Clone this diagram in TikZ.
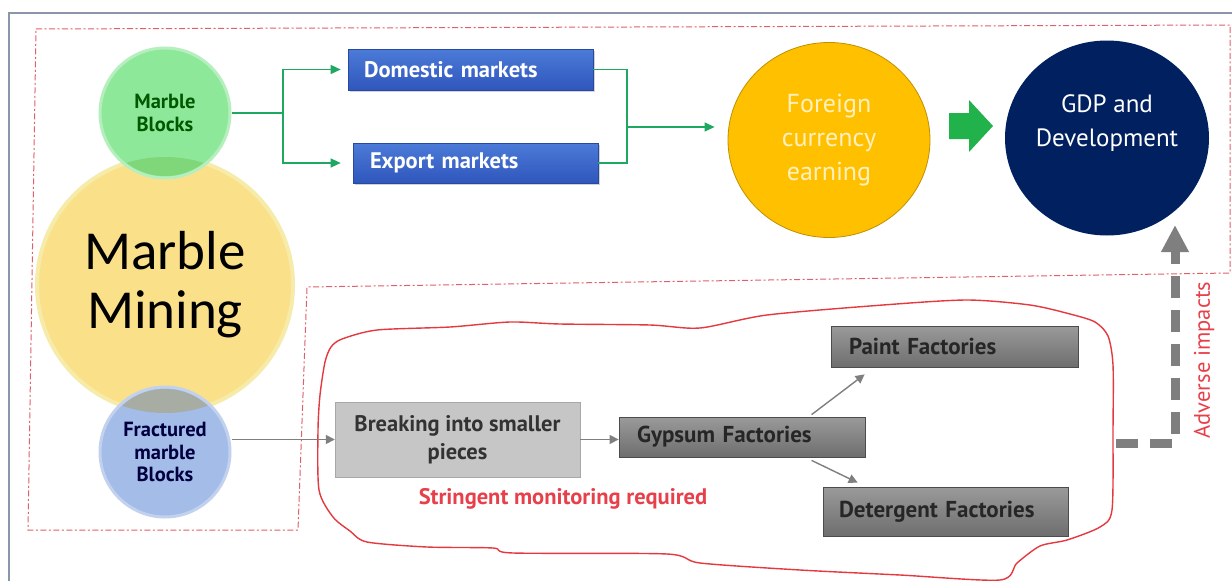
\documentclass[tikz,border=0pt]{standalone}
\usepackage{fontspec}
\setmainfont{PT Sans}
\newfontfamily\nf{PT Sans}
\newfontfamily\calib{Carlito}
\usetikzlibrary{arrows.meta,shapes.geometric,shadows,calc}
\definecolor{framec}{HTML}{8A96AA}
\definecolor{reddash}{HTML}{E0606A}
\definecolor{redline}{HTML}{E53940}
\definecolor{redtext}{HTML}{E8404A}
\definecolor{yellowc}{HTML}{FBE08A}
\definecolor{yellowrim}{HTML}{F6EBA8}
\definecolor{greenc}{HTML}{8DE89A}
\definecolor{greenrim}{HTML}{B6EFBE}
\definecolor{greenov}{HTML}{7FD77A}
\definecolor{bluec}{HTML}{A3BCE8}
\definecolor{bluerim}{HTML}{C2D2EE}
\definecolor{blueov}{HTML}{A8ADA4}
\definecolor{blueT}{HTML}{4C7BD8}
\definecolor{blueB}{HTML}{2F56BC}
\definecolor{gline}{HTML}{1FA862}
\definecolor{amber}{HTML}{FFC000}
\definecolor{navy}{HTML}{002060}
\definecolor{garr}{HTML}{22B24C}
\definecolor{dgT}{HTML}{9A9A9A}
\definecolor{dgB}{HTML}{6E6E6E}
\definecolor{lgc}{HTML}{C6C6C6}
\definecolor{grayarr}{HTML}{7F7F7F}
\definecolor{cream}{HTML}{FFF0C0}
\begin{document}
\begin{tikzpicture}[x=1pt,y=-1pt,
  circ/.style={circle,inner sep=0pt,align=center},
  bluebox/.style={rectangle,top color=blueT,bottom color=blueB,draw=blueB!85!black,line width=0.6pt,
    drop shadow={opacity=0.35,shadow xshift=2pt,shadow yshift=-2pt},text=white,
    font=\nf\bfseries\fontsize{22.5}{26}\selectfont,align=left,inner ysep=0pt},
  dgbox/.style={rectangle,top color=dgT,bottom color=dgB,draw=black!70,line width=0.8pt,
    text=black!85,font=\nf\bfseries\fontsize{23}{26}\selectfont,align=left,inner ysep=0pt},
  lgbox/.style={rectangle,fill=lgc,draw=lgc!85!black,line width=0.4pt,
    text=black!80,font=\nf\bfseries\fontsize{22.5}{28}\selectfont,align=center,inner sep=0pt},
  gconn/.style={draw=gline,line width=1.3pt},
  garrow/.style={gconn,-{Triangle[width=9pt,length=10pt]}},
  grayconn/.style={draw=grayarr,line width=1.4pt,-{Triangle[width=9pt,length=9pt]}},
  regionline/.style={draw=reddash,line width=1pt,dash pattern=on 6pt off 2.5pt on 2pt off 2.5pt},
  impact/.style={draw=grayarr,line width=9pt,dash pattern=on 22pt off 12pt,
    -{Triangle[width=26pt,length=27pt]}}
]
\useasboundingbox (0,0) rectangle (1232,581);
\clip (0,0) rectangle (1232,581);
\fill[white] (0,0) rectangle (1232,581);
% outer frame
\draw[draw=framec,line width=1.3pt] (9,600) -- (9,13) -- (1250,13);
% red dashed region
\draw[regionline] (36,29) -- (1230,25) -- (1230,273) -- (307,287) -- (298,530) -- (28,530) -- cycle;
% red freehand outline
\draw[draw=redline,line width=1.4pt] plot[smooth cycle,tension=0.45] coordinates {
 (318,430) (320,395) (325,362) (331,347) (342,339) (377,330) (450,327) (510,322)
 (560,324) (650,325) (700,328) (767,315) (883,305) (967,300) (1030,305) (1070,314)
 (1095,322) (1108,336) (1113,365) (1113,430) (1112,510) (1100,527) (1067,540)
 (1040,546) (1017,563) (1000,580) (900,575) (800,570) (700,563) (667,554)
 (513,553) (493,548) (427,547) (367,542) (350,531) (333,517) (319,490)};

% circles on the left
\node[circ,fill=yellowc,draw=yellowrim,line width=4pt,minimum size=256pt,
  font=\calib\fontsize{55}{59}\selectfont,text=black] (mining) at (165,285) {Marble\\Mining};
\node[circ,fill=greenc,draw=greenrim,line width=3pt,minimum size=130pt,
  font=\nf\bfseries\fontsize{20.5}{23}\selectfont,text=green!35!black] (blocks) at (165,113) {Marble\\Blocks};
\begin{scope}
  \clip (165,113) circle[radius=63pt];
  \fill[greenov] (165,285) circle[radius=128pt];
\end{scope}
\node[circ,fill=bluec,draw=bluerim,line width=3pt,minimum size=130pt,
  font=\nf\bfseries\fontsize{20.5}{22.5}\selectfont,text=blue!25!black] (fract) at (165,452) {Fractured\\marble\\Blocks};
\begin{scope}
  \clip (165,452) circle[radius=63pt];
  \fill[blueov] (165,285) circle[radius=128pt];
\end{scope}

% market boxes
\node[bluebox,minimum height=41pt,text width=213pt,inner xsep=16pt] (dom) at (470.5,69.5) {Domestic markets};
\node[bluebox,minimum height=40pt,text width=211pt,inner xsep=17pt] (exp) at (475.5,163) {Export markets};

% big circles
\node[ellipse,fill=amber,draw=amber!75!black,line width=0.8pt,minimum width=202pt,minimum height=195pt,
  inner sep=0pt,align=center,text=cream,font=\nf\fontsize{26}{34}\selectfont] (fc) at (829,140) {Foreign\\currency\\earning};
\node[ellipse,fill=navy,minimum width=204pt,minimum height=195pt,inner sep=0pt,align=center,
  text=white,font=\nf\fontsize{25}{34}\selectfont] (gdp) at (1107,138) {GDP and\\Development\\[0pt]\mbox{}};
% green block arrow
\fill[garr] (949,113) -- (969,113) -- (969,100) -- (993,126) -- (969,152) -- (969,139) -- (949,139) -- cycle;

% green connectors
\coordinate (gsplit) at (283,113);
\coordinate (gmerge) at (627,127);
\draw[gconn] (blocks.east) -- (gsplit);
\draw[garrow,shorten >=7pt] (gsplit) |- (dom.west);
\draw[garrow,shorten >=12pt] (gsplit) |- (exp.west);
\draw[gconn] (dom.east) -| (gmerge) |- (exp.east);
\draw[garrow,shorten >=13pt] (gmerge) -- (gmerge -| fc.west);

% lower chain
\node[lgbox,minimum width=245pt,minimum height=75pt] (brk) at (457.5,439.5) {Breaking into smaller\\pieces};
\node[dgbox,minimum height=40pt,text width=210pt,inner xsep=18pt] (gyp) at (742,437) {Gypsum Factories};
\node[dgbox,minimum height=41pt,text width=211pt,inner xsep=18pt] (paint) at (954.5,346.5) {Paint Factories};
\node[dgbox,minimum height=49pt,text width=213pt,inner xsep=16pt] (det) at (945.5,511.5) {Detergent Factories};
\node[text=redtext,font=\nf\bfseries\fontsize{22.5}{26}\selectfont] (mon) at (563,499) {Stringent monitoring required};

\draw[grayconn] (fract.east |- brk.west) -- (brk.west);
\draw[grayconn] (brk.east) -- (brk.east -| gyp.west);
\draw[grayconn] ($(gyp.north west)+(193,-2)$) -- ($(paint.south west)+(34,7)$);
\draw[grayconn] ($(gyp.south west)+(193,3)$) -- ($(det.north west)+(35,-4)$);

% adverse impacts
\coordinate (advstart) at (1116,443);
\coordinate (advend) at (1175,225);
\draw[impact] (advstart) -| (advend);
\node[rotate=90,text=redtext,font=\nf\fontsize{22.5}{26}\selectfont] (adv) at (1204,360) {Adverse impacts};
\end{tikzpicture}
\end{document}
